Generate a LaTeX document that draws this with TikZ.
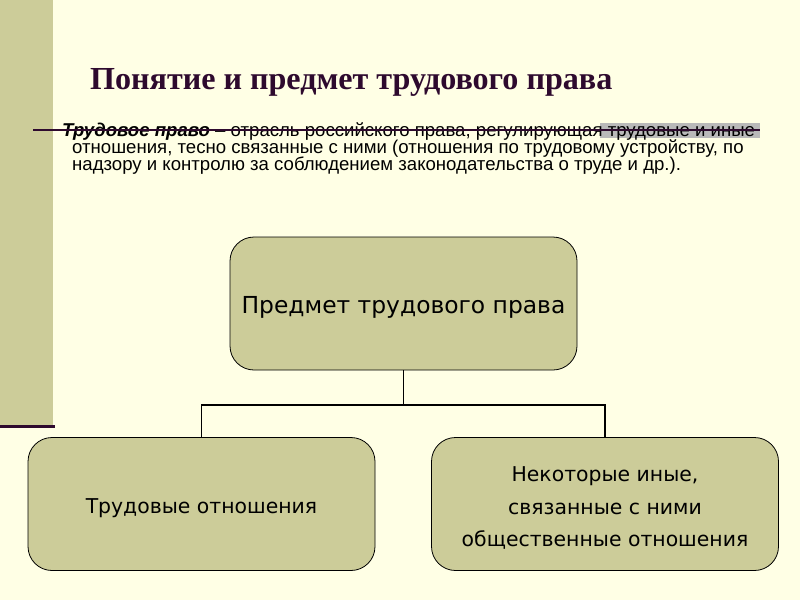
\documentclass[tikz,border=0pt]{standalone}
\usepackage{fontspec}
\setmainfont{Liberation Serif}
\setsansfont{Liberation Sans}
\newfontfamily\boxfont{DejaVu Sans}
\usetikzlibrary{positioning}

\begin{document}
\begin{tikzpicture}[x=1pt,y=-1pt,
    kasten/.style={draw=black, fill=oliv, rounded corners=24pt, minimum width=347pt,
      minimum height=133pt, line width=0.8pt},
    inhalt/.style={yshift=-4pt, align=center, font=\boxfont\fontsize{20.4}{32.5}\selectfont},
    zeile/.style={anchor=base west, inner sep=0pt, font=\sffamily\fontsize{18.6}{17}\selectfont}]
    \definecolor{oliv}{HTML}{CCCC99}
    \definecolor{creme}{HTML}{FFFFE5}
    \definecolor{lila}{HTML}{2E0A2E}
    \useasboundingbox (0,0) rectangle (800,600);
    \fill[creme] (0,0) rectangle (800,600);  %Hintergrund
    \fill[oliv] (0,0) rectangle (53,425);  %linker Streifen
    \draw[lila, line width=3pt] (0,426) -- (55,426);  %Strich unten links
    \node[anchor=base west, inner sep=0pt, text=lila, font=\bfseries\fontsize{32.1}{36}\selectfont]
      (titel) at (90,89) {Понятие и предмет трудового права};  %Ueberschrift
    \fill[gray!55] (600,123) rectangle (760,138);  %Markierung
    \node[zeile] (z1) at (62,136) {\textbf{\textit{Трудовое право}} -- отрасль российского права, регулирующая трудовые и иные};
    \node[zeile] (z2) at (72,153) {отношения, тесно связанные с ними (отношения по трудовому устройству, по};
    \node[zeile] (z3) at (72,170) {надзору и контролю за соблюдением законодательства о труде и др.).};
    \draw[lila, line width=1.5pt] (33,130) -- (760,130);  %Linie durch die erste Zeile
    \node[kasten, label={[inhalt, font=\boxfont\fontsize{23.4}{28}\selectfont]center:Предмет трудового права}]
      (predmet) at (403.5,303.5) {};
    \node[kasten, label={[inhalt]center:Трудовые отношения}] (trud) at (201.5,504) {};
    \node[kasten, label={[inhalt]center:{Некоторые иные,\\связанные с ними\\общественные отношения}}] (inye) at (605,504) {};
    \coordinate (mitte) at (predmet.south |- 0,405);
    \draw[line width=1.6pt] (predmet.south) -- (mitte);  %senkrechter Strich
    \draw[line width=1.6pt] (trud.north) |- (mitte) -| (inye.north);  %Verzweigung
\end{tikzpicture}
\end{document}
